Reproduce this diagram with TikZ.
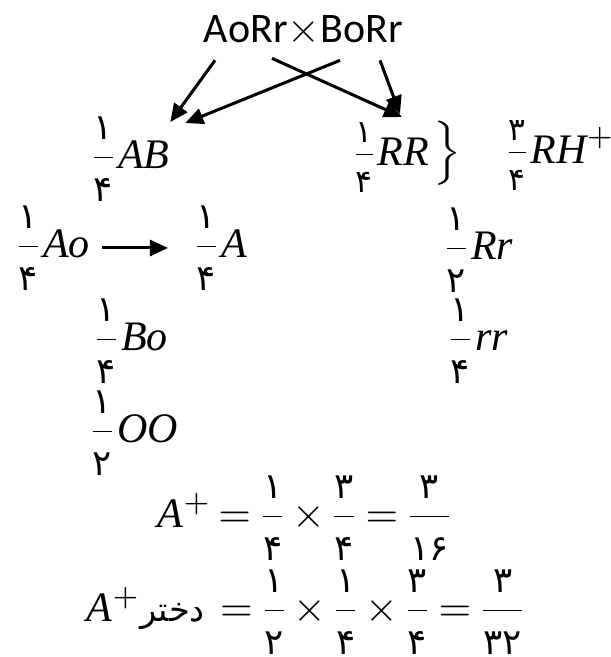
\documentclass[tikz,border=0pt]{standalone}
\usepackage{amsmath}
\usepackage{fontspec}
\usetikzlibrary{arrows.meta, positioning}
\setmainfont{Liberation Serif}
\newfontfamily\titlefont{Carlito}
\newfontfamily\digfont{DejaVu Sans}
\newfontfamily\arabicfont[Script=Arabic]{DejaVu Sans}
\TeXXeTstate=1
\newcommand{\pd}[1]{\hbox{\digfont\fontsize{8.5}{10}\selectfont #1}}
\newcommand{\pds}[1]{\hbox{\digfont\fontsize{7.5}{8}\selectfont #1}}
\newcommand{\fb}[2]{\dfrac{\pd{#1}}{\raisebox{-1pt}{\pd{#2}}}}
\newcommand{\fs}[2]{\tfrac{\raisebox{1.5pt}{\pds{#1}}}{\raisebox{-3pt}{\pds{#2}}}}
\thickmuskip=3mu
\medmuskip=2mu

\begin{document}
\begin{tikzpicture}[x=0.238pt, y=-0.238pt,
    geno/.style={inner sep=0pt, anchor=base west},
    arr/.style={-{Triangle[length=4.3pt,width=3.8pt]}, line width=0.72pt}
  ]
  \useasboundingbox (0,0) rectangle (611,657);

  \node[geno, font=\titlefont] (cross) at (203,42) {AoRr$\times$BoRr};

  \node[geno] (ab) at (88,168) {$\fb{۱}{۴}\mathit{AB}$};
  \node[geno] (homRR) at (350,165) {$\fs{۱}{۴}\mathit{RR}$};
  \node[inner sep=0pt] (brace) at (448,153) {\scalebox{1}[0.85]{$\Big\}$}};
  \node[geno] (rh) at (503,163) {$\fs{۳}{۴}\mathit{RH}^{+}$};

  \node[geno] (ao) at (13,257) {$\fb{۱}{۴}\mathit{Ao}$};
  \node[geno] (a) at (191,257) {$\fb{۱}{۴}\mathit{A}$};
  \node[geno] (hetRr) at (441,259) {$\fb{۱}{۲}\mathit{Rr}$};
  \node[geno] (bo) at (91,350) {$\fb{۱}{۴}\mathit{Bo}$};
  \node[geno] (recrr) at (445,350) {$\fb{۱}{۴}\mathit{rr}$};
  \node[geno] (oo) at (87,442) {$\fb{۱}{۲}\mathit{OO}$};

  \node[geno] (eqa) at (157,527) {$\mathit{A}^{+}=\fb{۱}{۴}\times\fb{۳}{۴}=\fb{۳}{۱۶}$};
  \node[geno] (eqb) at (86,621) {$\mathit{A}^{+}\hbox{\arabicfont\fontsize{8}{9}\selectfont\beginR دختر\endR}\hskip 2pt=\fb{۱}{۲}\times\fb{۱}{۴}\times\fb{۳}{۴}=\fb{۳}{۳۲}$};

  % gametes to offspring
  \draw[arr] ([shift={(12,14)}]cross.south west) -- ([shift={(0,-46)}]ab.base east);
  \draw[arr] ([shift={(137,14)}]cross.south west) -- ([shift={(15,-45)}]ab.base east);
  \draw[arr] ([shift={(69,12)}]cross.south west) -- ([shift={(12,-48)}]homRR.base);
  \draw[arr] ([shift={(177,14)}]cross.south west) -- ([shift={(10,-51)}]homRR.base);
  \draw[arr] ([shift={(11,0)}]ao.east) -- ([shift={(-23,0)}]a.west);
\end{tikzpicture}
\end{document}
